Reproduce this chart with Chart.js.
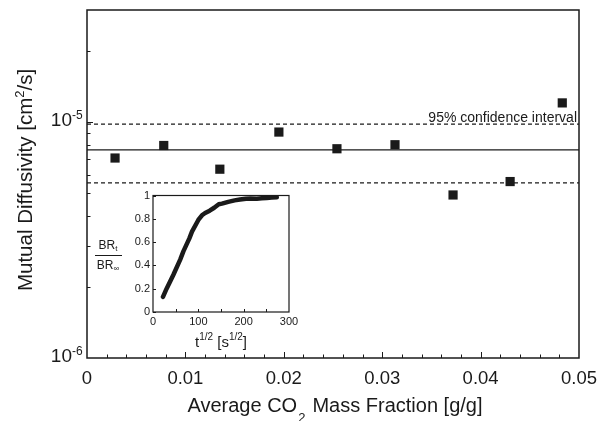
<!DOCTYPE html>
<html>
<head>
<meta charset="utf-8">
<title>Mutual Diffusivity vs CO2 Mass Fraction</title>
<script src="https://cdn.jsdelivr.net/npm/chart.js@4.4.1/dist/chart.umd.min.js"></script>
<style>
  body { margin: 0; background: #fff; }
  #wrap { position: relative; width: 600px; height: 421px; }
  #mainChart { position: absolute; left: 0; top: 0; }
  #insetChart { position: absolute; left: 85px; top: 185px; }
</style>
</head>
<body>
<div id="wrap">
  <canvas id="mainChart" width="600" height="421"></canvas>
  <canvas id="insetChart" width="220" height="170"></canvas>
</div>
<script>
// main plot data
var co2Fraction = [0.00285, 0.0078, 0.0135, 0.0195, 0.0254, 0.0313, 0.0372, 0.0430, 0.0483];
var diffusivity = [7.06e-6, 7.98e-6, 6.33e-6, 9.1e-6, 7.73e-6, 8.04e-6, 4.92e-6, 5.61e-6, 1.21e-5];
var meanD = 7.65e-6;
var upperD = 9.84e-6;   // 95% confidence interval
var lowerD = 5.54e-6;
var xRange = [0, 0.05];
var yRange = [1e-6, 3e-5];
var xTickValues = [0, 0.01, 0.02, 0.03, 0.04, 0.05];
var xTickLabels = ['0', '0.01', '0.02', '0.03', '0.04', '0.05'];
var yTickValues = [1e-6, 1e-5];
var yTickExps = ['-6', '-5'];

// inset data: BR_t / BR_inf vs t^1/2
var insetT = [22, 30, 45, 60, 67, 80, 86, 100, 108, 115, 125, 135, 145, 152, 166, 180, 192, 205, 215, 229, 240, 251, 262, 273];
var insetBR = [0.13, 0.20, 0.32, 0.45, 0.52, 0.63, 0.69, 0.79, 0.83, 0.85, 0.87, 0.895, 0.925, 0.93, 0.945, 0.958, 0.965, 0.972, 0.975, 0.973, 0.977, 0.979, 0.982, 0.985];
var insetXTicks = [0, 100, 200, 300];
var insetYTicks = [0, 0.2, 0.4, 0.6, 0.8, 1];
var insetYLabels = ['0', '0.2', '0.4', '0.6', '0.8', '1'];

var FONT = '"Liberation Sans", Arial, sans-serif';
var INK = '#1a1a1a';

function font(size) {
  return size + 'px ' + FONT;
}

// draw a row of text pieces (for sub/superscripts), centred on cx
function drawRuns(ctx, runs, cx, y) {
  var total = 0;
  runs.forEach(function (r) {
    ctx.font = font(r.size);
    r.w = ctx.measureText(r.t).width;
    total += r.w + (r.gap || 0);
  });
  var x = cx - total / 2;
  ctx.textAlign = 'left';
  ctx.textBaseline = 'alphabetic';
  runs.forEach(function (r) {
    ctx.font = font(r.size);
    ctx.fillText(r.t, x, y + (r.dy || 0));
    x += r.w + (r.gap || 0);
  });
}

var points = co2Fraction.map(function (x, i) {
  return { x: x, y: diffusivity[i] };
});

function hLine(v) {
  return [{ x: xRange[0], y: v }, { x: xRange[1], y: v }];
}

// frame, inward ticks and all labels of the main plot
var mainAxes = {
  id: 'mainAxes',
  afterDraw: function (chart) {
    var ctx = chart.ctx;
    var a = chart.chartArea;
    var xs = chart.scales.x;
    var ys = chart.scales.y;
    ctx.save();
    ctx.strokeStyle = INK;
    ctx.fillStyle = INK;
    ctx.lineWidth = 1.5;
    ctx.strokeRect(a.left, a.top, a.right - a.left, a.bottom - a.top);

    ctx.lineWidth = 1;
    ctx.beginPath();
    for (var i = 1; i < 25; i++) {
      var px = Math.round(xs.getPixelForValue(i * 0.002)) + 0.5;
      var len = (i % 5 === 0) ? 6 : 3.5;
      ctx.moveTo(px, a.bottom);
      ctx.lineTo(px, a.bottom - len);
    }
    var minors = [];
    for (var m = 2; m <= 9; m++) minors.push(m * 1e-6);
    minors.push(2e-5);
    minors.forEach(function (v) {
      var py = Math.round(ys.getPixelForValue(v)) + 0.5;
      ctx.moveTo(a.left, py);
      ctx.lineTo(a.left + 3.5, py);
    });
    var pyMajor = Math.round(ys.getPixelForValue(1e-5)) + 0.5;
    ctx.moveTo(a.left, pyMajor);
    ctx.lineTo(a.left + 6, pyMajor);
    ctx.stroke();

    // x tick labels
    ctx.font = font(18.5);
    ctx.textAlign = 'center';
    ctx.textBaseline = 'alphabetic';
    xTickValues.forEach(function (v, i) {
      ctx.fillText(xTickLabels[i], xs.getPixelForValue(v), 384);
    });

    // y tick labels 10^n
    yTickValues.forEach(function (v, i) {
      var py = ys.getPixelForValue(v);
      ctx.font = font(19);
      ctx.textAlign = 'right';
      ctx.fillText('10', 72, py + 4);
      ctx.font = font(12);
      ctx.textAlign = 'left';
      ctx.fillText(yTickExps[i], 72, py - 3);
    });

    // confidence interval note
    ctx.font = font(14);
    ctx.textAlign = 'right';
    ctx.fillText('95% confidence interval', a.right - 2, ys.getPixelForValue(upperD) - 2.5);

    // x title
    drawRuns(ctx, [
      { t: 'Average CO', size: 20, gap: 1 },
      { t: '2', size: 13, dy: 10, gap: 1.5 },
      { t: ' Mass Fraction [g/g]', size: 20 }
    ], 335, 411.5);

    // y title (rotated)
    ctx.translate(31.5, 180);
    ctx.rotate(-Math.PI / 2);
    drawRuns(ctx, [
      { t: 'Mutual Diffusivity [cm', size: 20.5 },
      { t: '2', size: 13, dy: -8 },
      { t: '/s]', size: 20.5 }
    ], 0, 0);
    ctx.restore();
  }
};

new Chart(document.getElementById('mainChart'), {
  type: 'scatter',
  data: {
    datasets: [
      { data: hLine(meanD), showLine: true, borderColor: INK, borderWidth: 1.3, pointRadius: 0 },
      { data: hLine(upperD), showLine: true, borderColor: INK, borderWidth: 1.3, borderDash: [4, 3], pointRadius: 0 },
      { data: hLine(lowerD), showLine: true, borderColor: INK, borderWidth: 1.3, borderDash: [4, 3], pointRadius: 0 },
      { data: points, pointStyle: 'rect', pointRadius: 6.5, backgroundColor: INK, borderWidth: 0 }
    ]
  },
  options: {
    responsive: false,
    animation: false,
    events: [],
    layout: { padding: { left: 87, right: 21, top: 10, bottom: 63 } },
    plugins: { legend: { display: false }, tooltip: { enabled: false } },
    scales: {
      x: { type: 'linear', min: xRange[0], max: xRange[1], display: false },
      y: { type: 'logarithmic', min: yRange[0], max: yRange[1], display: false }
    }
  },
  plugins: [mainAxes]
});

// inset frame, ticks and labels
var insetAxes = {
  id: 'insetAxes',
  afterDraw: function (chart) {
    var ctx = chart.ctx;
    var a = chart.chartArea;
    var xs = chart.scales.x;
    var ys = chart.scales.y;
    ctx.save();
    ctx.strokeStyle = INK;
    ctx.fillStyle = INK;
    ctx.lineWidth = 1.2;
    ctx.strokeRect(a.left, a.top, a.right - a.left, a.bottom - a.top);

    ctx.lineWidth = 1;
    ctx.beginPath();
    for (var t = 50; t < 300; t += 50) {
      var px = Math.round(xs.getPixelForValue(t)) + 0.5;
      ctx.moveTo(px, a.bottom);
      ctx.lineTo(px, a.bottom - 3);
    }
    insetYTicks.forEach(function (v) {
      var py = Math.round(ys.getPixelForValue(v)) + 0.5;
      ctx.moveTo(a.left, py);
      ctx.lineTo(a.left + 3, py);
    });
    ctx.stroke();

    ctx.font = font(11);
    ctx.textAlign = 'right';
    ctx.textBaseline = 'middle';
    insetYTicks.forEach(function (v, i) {
      ctx.fillText(insetYLabels[i], a.left - 3, ys.getPixelForValue(v));
    });
    ctx.textAlign = 'center';
    ctx.textBaseline = 'top';
    insetXTicks.forEach(function (v) {
      ctx.fillText(String(v), xs.getPixelForValue(v), a.bottom + 4);
    });

    // x title t^1/2 [s^1/2]
    drawRuns(ctx, [
      { t: 't', size: 15 },
      { t: '1/2', size: 10, dy: -7 },
      { t: ' [s', size: 15 },
      { t: '1/2', size: 10, dy: -7 },
      { t: ']', size: 15 }
    ], 136, 162);

    // y title as a fraction BR_t / BR_inf
    drawRuns(ctx, [
      { t: 'BR', size: 12 },
      { t: 't', size: 8, dy: 2 }
    ], 23, 64);
    ctx.beginPath();
    ctx.moveTo(10, 70.5);
    ctx.lineTo(37, 70.5);
    ctx.stroke();
    drawRuns(ctx, [
      { t: 'BR', size: 12 },
      { t: '\u221E', size: 8, dy: 2 }
    ], 23, 84);
    ctx.restore();
  }
};

new Chart(document.getElementById('insetChart'), {
  type: 'scatter',
  data: {
    datasets: [{
      data: insetT.map(function (t, i) { return { x: t, y: insetBR[i] }; }),
      showLine: true,
      borderColor: INK,
      borderWidth: 4.5,
      borderCapStyle: 'round',
      borderJoinStyle: 'round',
      pointRadius: 0
    }]
  },
  options: {
    responsive: false,
    animation: false,
    events: [],
    layout: { padding: { left: 68, right: 16, top: 10.5, bottom: 43 } },
    plugins: { legend: { display: false }, tooltip: { enabled: false } },
    scales: {
      x: { type: 'linear', min: 0, max: 300, display: false },
      y: { type: 'linear', min: 0, max: 1, display: false }
    }
  },
  plugins: [insetAxes]
});
</script>
</body>
</html>
